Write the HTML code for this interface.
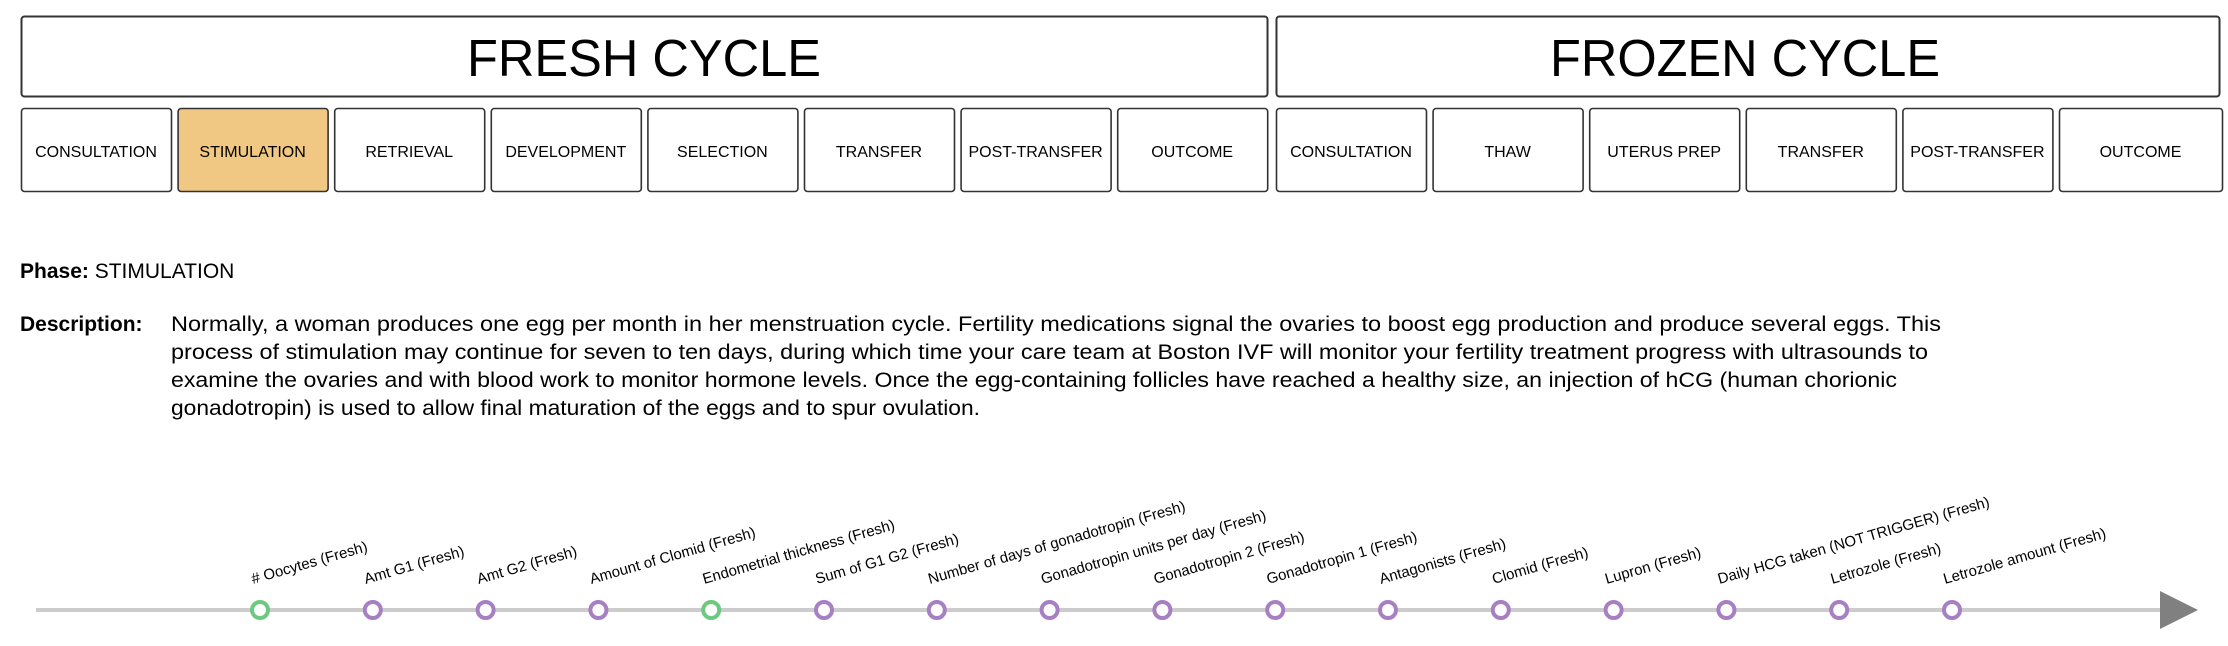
<!DOCTYPE html>
<html><head><meta charset="utf-8">
<style>
html,body{margin:0;padding:0;background:#fff;}
svg{display:block;font-family:"Liberation Sans",Arial,sans-serif;}
</style></head>
<body>
<svg id="chart" width="2228" height="646" viewBox="0 0 2228 646" xmlns="http://www.w3.org/2000/svg">
  <g id="header"></g>
  <g id="info">
    <text x="20" y="278" font-size="21"><tspan font-weight="bold">Phase:</tspan> STIMULATION</text>
    <text x="20" y="331" font-size="21" font-weight="bold">Description:</text>
    <g font-size="21">
      <text x="171" y="331" textLength="1770" lengthAdjust="spacingAndGlyphs">Normally, a woman produces one egg per month in her menstruation cycle. Fertility medications signal the ovaries to boost egg production and produce several eggs. This</text>
      <text x="171" y="359" textLength="1757" lengthAdjust="spacingAndGlyphs">process of stimulation may continue for seven to ten days, during which time your care team at Boston IVF will monitor your fertility treatment progress with ultrasounds to</text>
      <text x="171" y="387" textLength="1726" lengthAdjust="spacingAndGlyphs">examine the ovaries and with blood work to monitor hormone levels. Once the egg-containing follicles have reached a healthy size, an injection of hCG (human chorionic</text>
      <text x="171" y="415" textLength="809" lengthAdjust="spacingAndGlyphs">gonadotropin) is used to allow final maturation of the eggs and to spur ovulation.</text>
    </g>
  </g>
  <g id="timeline"></g>
</svg>
<script>
const freshPhases = ["CONSULTATION","STIMULATION","RETRIEVAL","DEVELOPMENT","SELECTION","TRANSFER","POST-TRANSFER","OUTCOME"];
const frozenPhases = ["CONSULTATION","THAW","UTERUS PREP","TRANSFER","POST-TRANSFER","OUTCOME"];
const activePhase = "fresh-1";
const variables = ["# Oocytes (Fresh)","Amt G1 (Fresh)","Amt G2 (Fresh)","Amount of Clomid (Fresh)","Endometrial thickness (Fresh)","Sum of G1 G2 (Fresh)","Number of days of gonadotropin (Fresh)","Gonadotropin units per day (Fresh)","Gonadotropin 2 (Fresh)","Gonadotropin 1 (Fresh)","Antagonists (Fresh)","Clomid (Fresh)","Lupron (Fresh)","Daily HCG taken (NOT TRIGGER) (Fresh)","Letrozole (Fresh)","Letrozole amount (Fresh)"];
const variableKinds = ["outcome","input","input","input","outcome","input","input","input","input","input","input","input","input","input","input","input"];

const NS="http://www.w3.org/2000/svg";
function mk(tag, attrs, parent){const e=document.createElementNS(NS,tag);for(const k in attrs)e.setAttribute(k,attrs[k]);parent.appendChild(e);return e;}
const header=document.getElementById('header');

const t1=mk('rect',{x:21.5,y:16.5,width:1246,height:80,rx:3,fill:'#fff',stroke:'#333','stroke-width':2},header);


const tt1=mk('text',{x:644,y:76,'font-size':52,'text-anchor':'middle',textLength:354,lengthAdjust:'spacingAndGlyphs'},header);
tt1.textContent='FRESH CYCLE';


const t2=mk('rect',{x:1276.5,y:16.5,width:943,height:80,rx:3,fill:'#fff',stroke:'#333','stroke-width':2},header);


const tt2=mk('text',{x:1745,y:76,'font-size':52,'text-anchor':'middle',textLength:390,lengthAdjust:'spacingAndGlyphs'},header);
tt2.textContent='FROZEN CYCLE';



function drawPhases(list, x0, step, w, lastW, prefix){
  list.forEach((p,i)=>{
    const x=x0+i*step; const ww=(i===list.length-1&&lastW)?lastW:w;
    const active=(prefix+'-'+i)===activePhase;
    const r=mk('rect',{x:x+0.5,y:108.5,width:ww,height:83,rx:3,fill:active?'#f0c783':'#fff',stroke:'#333','stroke-width':1.6},header);
    
    
    const t=mk('text',{x:x+ww/2,y:157,'font-size':16,'text-anchor':'middle'},header);
    t.textContent=p;
    
    
  });
}
drawPhases(freshPhases,21,156.6,150,0,'fresh');
drawPhases(frozenPhases,1276,156.6,150,163,'frozen');

const tl=document.getElementById('timeline');
const lineY=610, x0=260, dx=112.8;
const xScale=i=>x0+i*dx;
const ax=mk('line',{x1:36,y1:lineY,x2:2165,y2:lineY,stroke:'#cccccc','stroke-width':4},tl);


const ar=mk('polygon',{points:`2160,${lineY-19} 2198,${lineY} 2160,${lineY+19}`,fill:'#808080'},tl);


variables.forEach((v,i)=>{
  const x=xScale(i);
  const c=mk('circle',{cx:x,cy:lineY,r:8,fill:'#fff',stroke:variableKinds[i]==='outcome'?'#6cc97f':'#a77fc3','stroke-width':4},tl);
  
  
  const t=mk('text',{x:x-7,y:lineY-26,'font-size':15,transform:`rotate(-16 ${x-7} ${lineY-26})`},tl);
  t.textContent=v;
  
  
});
</script>
</body></html>
